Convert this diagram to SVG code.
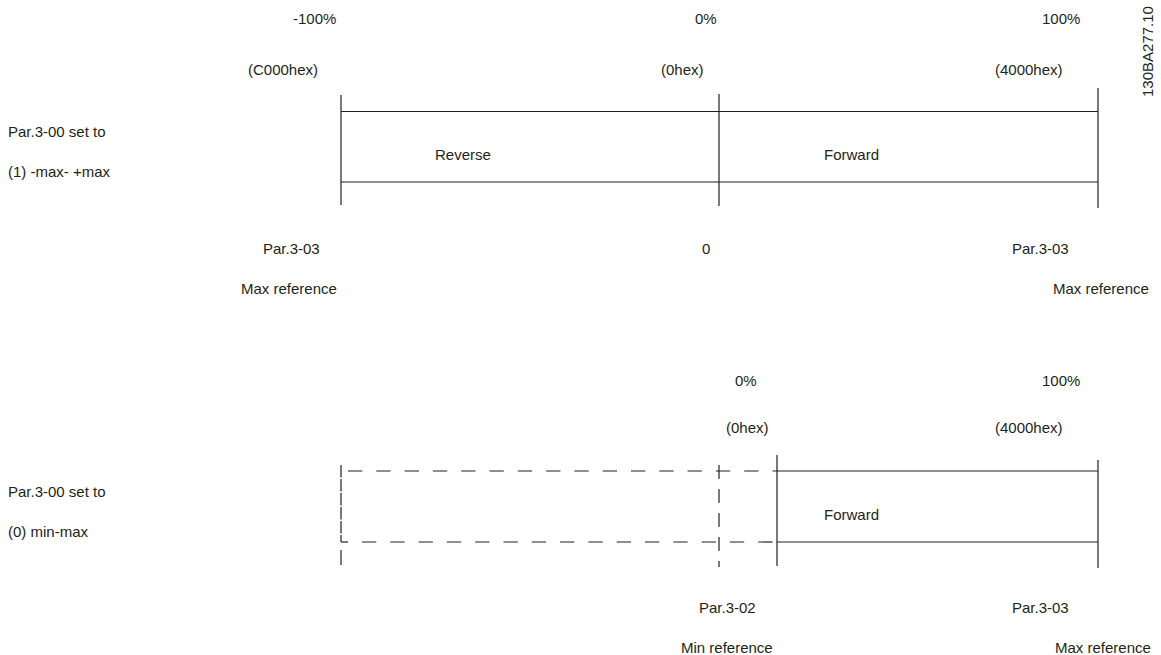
<svg xmlns="http://www.w3.org/2000/svg" width="1161" height="655" viewBox="0 0 1161 655">
<style>
text{font-family:"Liberation Sans",Arial,sans-serif;font-size:15px;fill:#231f20}
.s{stroke:#231f20;stroke-width:1.2;fill:none}
.d{stroke:#231f20;stroke-width:1.2;fill:none;stroke-dasharray:14.3 14}
.dv{stroke:#231f20;stroke-width:1.2;fill:none;stroke-dasharray:14 10}
.dl{stroke:#231f20;stroke-width:1.2;fill:none;stroke-dasharray:12.5 1.5}
</style>
<rect width="1161" height="655" fill="#fff"/>
<g id="connectors">
  <g id="top-bar">
    <line class="s" x1="341" y1="95" x2="341" y2="205"/>
    <line class="s" x1="719" y1="94" x2="719" y2="206"/>
    <line class="s" x1="1098" y1="88" x2="1098" y2="208"/>
    <line class="s" x1="341" y1="111.5" x2="1098" y2="111.5"/>
    <line class="s" x1="341" y1="182" x2="1098" y2="182"/>
  </g>
  <g id="bottom-bar">
    <path class="dl" d="M341 465 V542"/>
    <line class="s" x1="341" y1="550" x2="341" y2="565"/>
    <path class="d" d="M348 471 H777"/>
    <path class="s" d="M341 542 H348"/>
    <path class="d" d="M362 542 H777"/>
    <path class="dv" d="M719 465 V567"/>
    <line class="s" x1="777" y1="455" x2="777" y2="566"/>
    <line class="s" x1="1098" y1="460" x2="1098" y2="568"/>
    <line class="s" x1="777" y1="471" x2="1098" y2="471"/>
    <line class="s" x1="777" y1="542" x2="1098" y2="542"/>
  </g>
</g>
<g id="top-scale">
  <text x="293" y="24">-100%</text>
  <text x="695" y="24">0%</text>
  <text x="1042" y="24">100%</text>
  <text x="248" y="75">(C000hex)</text>
  <text x="661" y="75">(0hex)</text>
  <text x="995" y="75">(4000hex)</text>
</g>
<g id="top-mode">
  <text x="8" y="137">Par.3-00 set to</text>
  <text x="8" y="177">(1) -max- +max</text>
</g>
<g id="reverse"><text x="435" y="160">Reverse</text></g>
<g id="forward-top"><text x="824" y="160">Forward</text></g>
<g id="top-refs">
  <text x="263" y="254">Par.3-03</text>
  <text x="241" y="294">Max reference</text>
  <text x="702" y="254">0</text>
  <text x="1012" y="254">Par.3-03</text>
  <text x="1053" y="294">Max reference</text>
</g>
<g id="bottom-scale">
  <text x="735" y="386">0%</text>
  <text x="1042" y="386">100%</text>
  <text x="726" y="433">(0hex)</text>
  <text x="995" y="433">(4000hex)</text>
</g>
<g id="bottom-mode">
  <text x="8" y="497">Par.3-00 set to</text>
  <text x="8" y="537">(0) min-max</text>
</g>
<g id="forward-bottom"><text x="824" y="520">Forward</text></g>
<g id="bottom-refs">
  <text x="699" y="613">Par.3-02</text>
  <text x="681" y="653">Min reference</text>
  <text x="1012" y="613">Par.3-03</text>
  <text x="1055" y="653">Max reference</text>
</g>
<g id="code"><text transform="translate(1153,97) rotate(-90)">130BA277.10</text></g>
</svg>
